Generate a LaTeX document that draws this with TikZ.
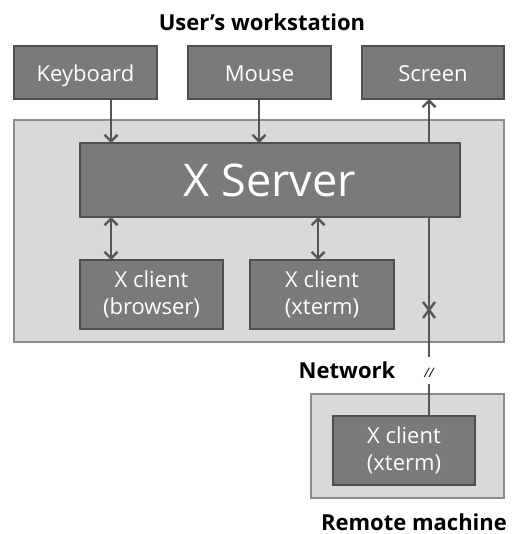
\documentclass[tikz,border=0pt]{standalone}
\usepackage{fontspec}
\setmainfont{Open Sans}
\usetikzlibrary{arrows.meta}
\definecolor{darkfill}{HTML}{7A7A7A}
\definecolor{darkline}{HTML}{4F4F4F}
\definecolor{lightfill}{HTML}{D9D9D9}
\definecolor{lightline}{HTML}{8C8C8C}
\definecolor{conn}{HTML}{555555}
\tikzset{
  dbox/.style={draw=darkline, fill=darkfill, line width=2.6pt, text=white, inner sep=0pt, outer sep=0pt, align=center, font=\fontsize{22}{27}\selectfont},
  onel/.style={text height=20pt, text depth=1pt},
  lbox/.style={draw=lightline, fill=lightfill, line width=1.8pt, inner sep=0pt, outer sep=0pt},
  conn/.style={draw=conn, line width=2.4pt},
  tip/.style={-{Straight Barb[length=6.5pt,width=13pt,line width=2.4pt]}},
  tips/.style={{Straight Barb[length=6.5pt,width=13pt,line width=2.4pt]}-{Straight Barb[length=6.5pt,width=13pt,line width=2.4pt]}},
  title/.style={font=\bfseries\fontsize{22}{26}\selectfont, inner sep=0pt}
}
\begin{document}
\begin{tikzpicture}[x=1pt,y=-1pt]
\useasboundingbox[fill=white] (0,0) rectangle (512,534);
\node[title] (t1) at (262,22) {User’s workstation};
\node[dbox, onel, minimum width=143pt, minimum height=53pt] (kb) at (85.5,72.5) {Keyboard};
\node[dbox, onel, minimum width=143pt, minimum height=53pt] (ms) at (259.5,72.5) {Mouse};
\node[dbox, onel, minimum width=142pt, minimum height=53pt] (sc) at (433,72.5) {Screen};
\node[lbox, minimum width=490pt, minimum height=222pt] (ws) at (259,231) {};
\node[lbox, minimum width=193pt, minimum height=104pt] (rm) at (407.5,446) {};
\node[dbox, minimum width=142pt, minimum height=69pt] (rc) at (404,450.5) {X client\\(xterm)};
\coordinate (n1) at (429,384);
\coordinate (n2) at (429,357);
\draw[conn] (rc.north -| n1) -- (n1);
\draw[conn, tip] (n2) -- (n2 |- sc.south);
\node[dbox, minimum width=380pt, minimum height=74pt, font=\fontsize{45}{50}\selectfont] (xs) at (270,180) {X Server};
\node[dbox, minimum width=143pt, minimum height=69pt] (cb) at (151.5,294.5) {X client\\(browser)};
\node[dbox, minimum width=144pt, minimum height=69pt] (cx) at (322,294.5) {X client\\(xterm)};
\draw[conn, tip] (kb.south -| 111,0) -- (xs.north -| 111,0);
\draw[conn, tip] (ms.south -| 259,0) -- (xs.north -| 259,0);
\draw[conn, tips] (xs.south -| 111,0) -- (cb.north -| 111,0);
\draw[conn, tips] (xs.south -| 318,0) -- (cx.north -| 318,0);
\coordinate (xm) at (429,310);
\draw[conn, line width=2.4pt] ([shift={(-6,-8)}]xm) -- ([shift={(6,8)}]xm) ([shift={(6,-8)}]xm) -- ([shift={(-6,8)}]xm);
\node[title] (net) at (347,370) {Network};
\node[font=\itshape\fontsize{13}{15}\selectfont, inner sep=0pt] (brk) at (429,373) {//};
\node[title] (rmt) at (414,522) {Remote machine};
\end{tikzpicture}
\end{document}
